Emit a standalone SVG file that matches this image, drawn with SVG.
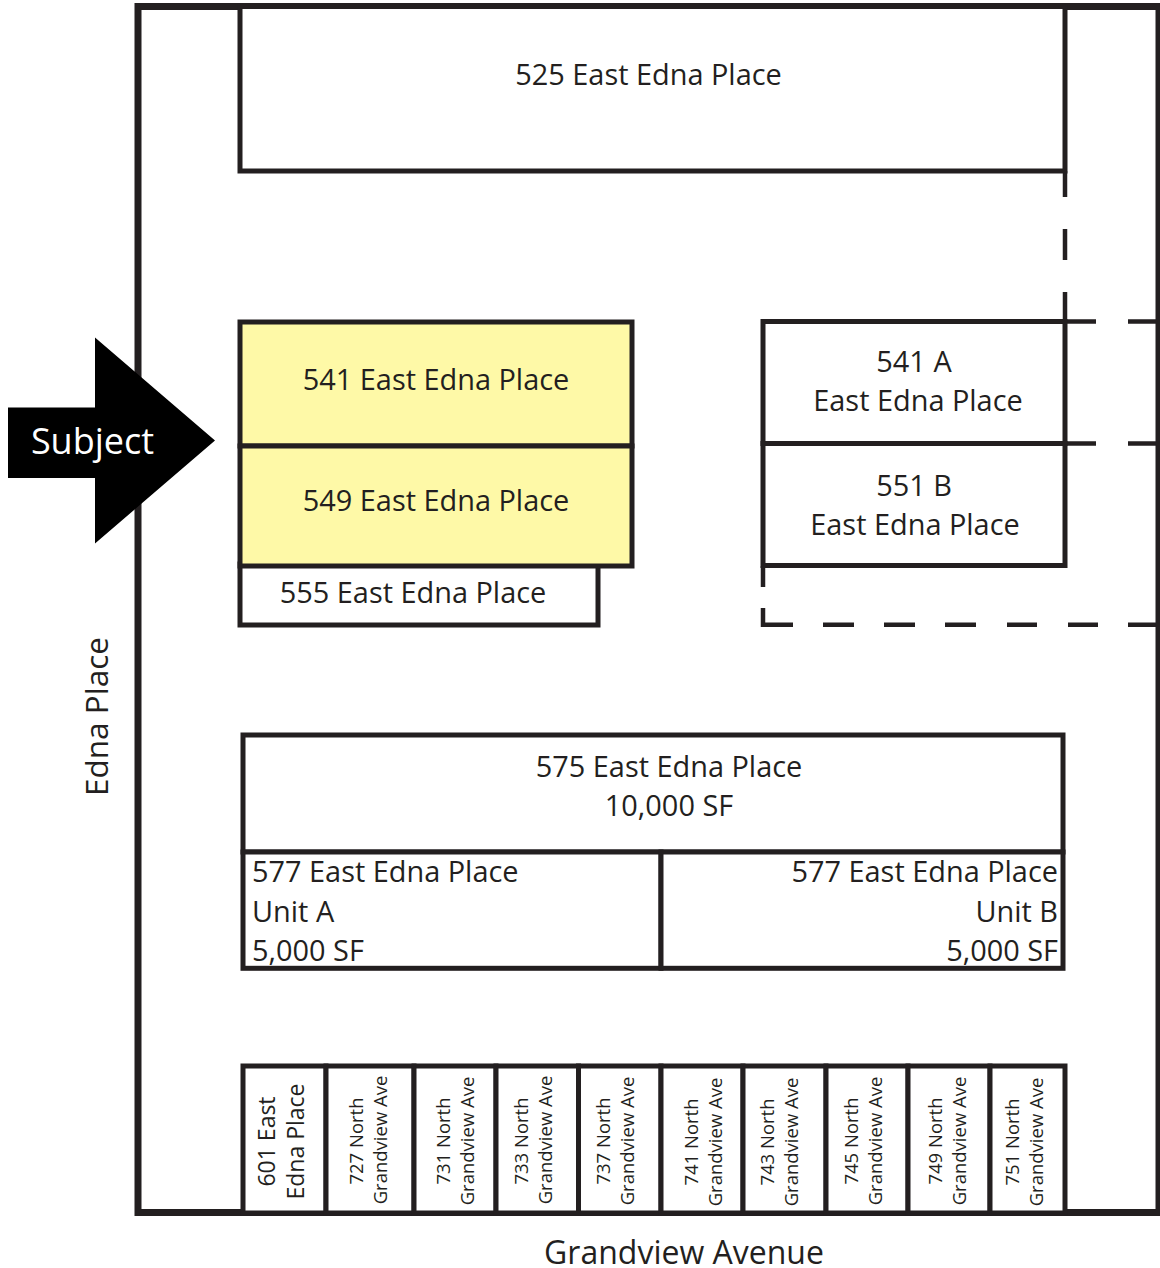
<svg xmlns="http://www.w3.org/2000/svg" width="1160" height="1268" viewBox="0 0 1160 1268">
<style>
text{font-family:"Open Sans","Noto Sans","Liberation Sans",sans-serif;fill:#231f20;font-size:28.9px;text-anchor:middle}
.b{fill:#fff;stroke:#231f20;stroke-width:5}
.y{fill:#fef9a7;stroke:#231f20;stroke-width:5}
.l{fill:none;stroke:#231f20;stroke-width:7}
.d{fill:none;stroke:#231f20;stroke-width:4.5}
.s{font-size:18.5px}
.m{font-size:23px}
.e{text-anchor:end}
.st{text-anchor:start}
</style>
<rect width="1160" height="1268" fill="#fff"/>
<g id="site"><rect class="l" x="138" y="6.5" width="1021" height="1206"/></g>
<g id="connectors">
<path class="d" d="M1065 171V197M1065 229V260M1065 292V322"/>
<path class="d" d="M1065 321.5H1096M1128 321.5H1157M1065 443.5H1096M1128 443.5H1157"/>
<path class="d" d="M763 566V587M763 608V624.7H793M823 624.7H854M884 624.7H915M945 624.7H976M1007 624.7H1037M1068 624.7H1098M1128 624.7H1157"/>
</g>
<g id="n525"><rect class="b" x="240" y="6.5" width="825" height="164.5"/><text x="648.5" y="85">525 East Edna Place</text></g>
<g id="n555"><rect class="b" x="240" y="564" width="358" height="61"/><text x="413" y="603">555 East Edna Place</text></g>
<g id="n541"><rect class="y" x="240" y="322" width="392" height="124"/><text x="436" y="390">541 East Edna Place</text></g>
<g id="n549"><rect class="y" x="240" y="446" width="392" height="120"/><text x="436" y="511">549 East Edna Place</text></g>
<g id="n541a"><rect class="b" x="763" y="321.5" width="302" height="122"/><text x="914" y="372">541 A</text><text x="918" y="411">East Edna Place</text></g>
<g id="n551b"><rect class="b" x="763" y="443.5" width="302" height="122"/><text x="914" y="496">551 B</text><text x="915" y="535">East Edna Place</text></g>
<g id="n575"><rect class="b" x="243" y="735" width="820" height="117"/><text x="669" y="777">575 East Edna Place</text><text x="669" y="816">10,000 SF</text></g>
<g id="n577a"><rect class="b" x="243" y="852" width="418" height="116.3"/><text class="st" x="252" y="882">577 East Edna Place</text><text class="st" x="252" y="922">Unit A</text><text class="st" x="252" y="961">5,000 SF</text></g>
<g id="n577b"><rect class="b" x="661" y="852" width="402" height="116.3"/><text class="e" x="1058" y="882">577 East Edna Place</text><text class="e" x="1058" y="921.5">Unit B</text><text class="e" x="1058" y="961">5,000 SF</text></g>
<g id="n601"><rect class="b" x="243" y="1066" width="83" height="147"/><text class="m" transform="translate(274.5 1141.5) rotate(-90)">601 East</text><text class="m" transform="translate(304 1141.5) rotate(-90)">Edna Place</text></g>
<g id="n727"><rect class="b" x="326" y="1066" width="88" height="147"/><text class="s" transform="translate(362.500 1141) rotate(-90)">727 North</text><text class="s" transform="translate(386.500 1140) rotate(-90)">Grandview Ave</text></g>
<g id="n731"><rect class="b" x="414" y="1066" width="82" height="147"/><text class="s" transform="translate(449.500 1141) rotate(-90)">731 North</text><text class="s" transform="translate(473.500 1141) rotate(-90)">Grandview Ave</text></g>
<g id="n733"><rect class="b" x="496" y="1066" width="82.500" height="147"/><text class="s" transform="translate(527.500 1141) rotate(-90)">733 North</text><text class="s" transform="translate(551.500 1140) rotate(-90)">Grandview Ave</text></g>
<g id="n737"><rect class="b" x="578.500" y="1066" width="82.500" height="147"/><text class="s" transform="translate(609.500 1141) rotate(-90)">737 North</text><text class="s" transform="translate(633.500 1141) rotate(-90)">Grandview Ave</text></g>
<g id="n741"><rect class="b" x="661" y="1066" width="82" height="147"/><text class="s" transform="translate(697.500 1142) rotate(-90)">741 North</text><text class="s" transform="translate(721.500 1142) rotate(-90)">Grandview Ave</text></g>
<g id="n743"><rect class="b" x="743" y="1066" width="83" height="147"/><text class="s" transform="translate(773.500 1142) rotate(-90)">743 North</text><text class="s" transform="translate(797.500 1142) rotate(-90)">Grandview Ave</text></g>
<g id="n745"><rect class="b" x="826" y="1066" width="82" height="147"/><text class="s" transform="translate(857.500 1141) rotate(-90)">745 North</text><text class="s" transform="translate(881.500 1141) rotate(-90)">Grandview Ave</text></g>
<g id="n749"><rect class="b" x="908" y="1066" width="82" height="147"/><text class="s" transform="translate(941.500 1141) rotate(-90)">749 North</text><text class="s" transform="translate(965.500 1141) rotate(-90)">Grandview Ave</text></g>
<g id="n751"><rect class="b" x="990" y="1066" width="75" height="147"/><text class="s" transform="translate(1019 1142) rotate(-90)">751 North</text><text class="s" transform="translate(1042.500 1142) rotate(-90)">Grandview Ave</text></g>
<g id="subject"><path d="M8 407.500H95V337.500L215 440.500L95 543.500V478H8Z" fill="#000"/><text x="92.500" y="453.500" style="fill:#fff;font-size:36px">Subject</text></g>
<text id="edna" style="font-size:31.500px" transform="translate(107.500 716.500) rotate(-90)">Edna Place</text>
<text id="grandview" x="684" y="1264" style="font-size:32px">Grandview Avenue</text>
</svg>
